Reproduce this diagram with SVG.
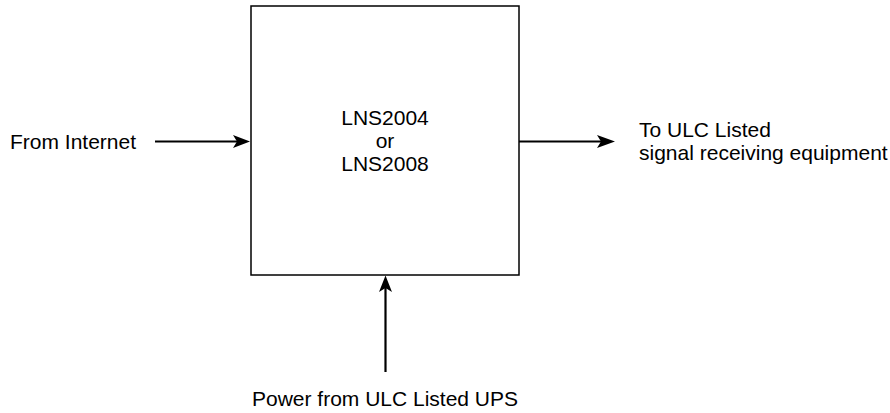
<svg xmlns="http://www.w3.org/2000/svg" width="890" height="413" viewBox="0 0 890 413">
<defs>
<style>
.lbl{font-family:"Liberation Sans",Arial,Helvetica,sans-serif;font-size:21px;fill:#000}
.box{fill:#fff;stroke:#000;stroke-width:1.5}
.conn{stroke:#000;stroke-width:2.2;fill:none}
.head{fill:#000;stroke:none}
</style>
</defs>
<rect width="890" height="413" fill="#fff"/>
<g id="connectors">
<line class="conn" x1="155" y1="141.5" x2="238" y2="141.5"/>
<path class="head" d="M250,141.5 L233,135 L237,141.5 L233,148 Z"/>
<line class="conn" x1="519" y1="141.5" x2="603" y2="141.5"/>
<path class="head" d="M615,141.5 L597,135 L601,141.5 L597,148 Z"/>
<line class="conn" x1="385.5" y1="372" x2="385.5" y2="288"/>
<path class="head" d="M385.5,275.5 L379,292 L385.5,288 L392,292 Z"/>
</g>
<g id="node-lns">
<rect class="box" x="251" y="6" width="268" height="269"/>
<text class="lbl" x="385" y="125" text-anchor="middle">LNS2004</text>
<text class="lbl" x="385" y="148" text-anchor="middle">or</text>
<text class="lbl" x="385" y="171" text-anchor="middle">LNS2008</text>
</g>
<g id="label-internet">
<text class="lbl" x="10" y="149">From Internet</text>
</g>
<g id="label-ulc">
<text class="lbl" x="639" y="137">To ULC Listed</text>
<text class="lbl" x="639" y="160">signal receiving equipment</text>
</g>
<g id="label-power">
<text class="lbl" x="385" y="406" text-anchor="middle">Power from ULC Listed UPS</text>
</g>
</svg>
